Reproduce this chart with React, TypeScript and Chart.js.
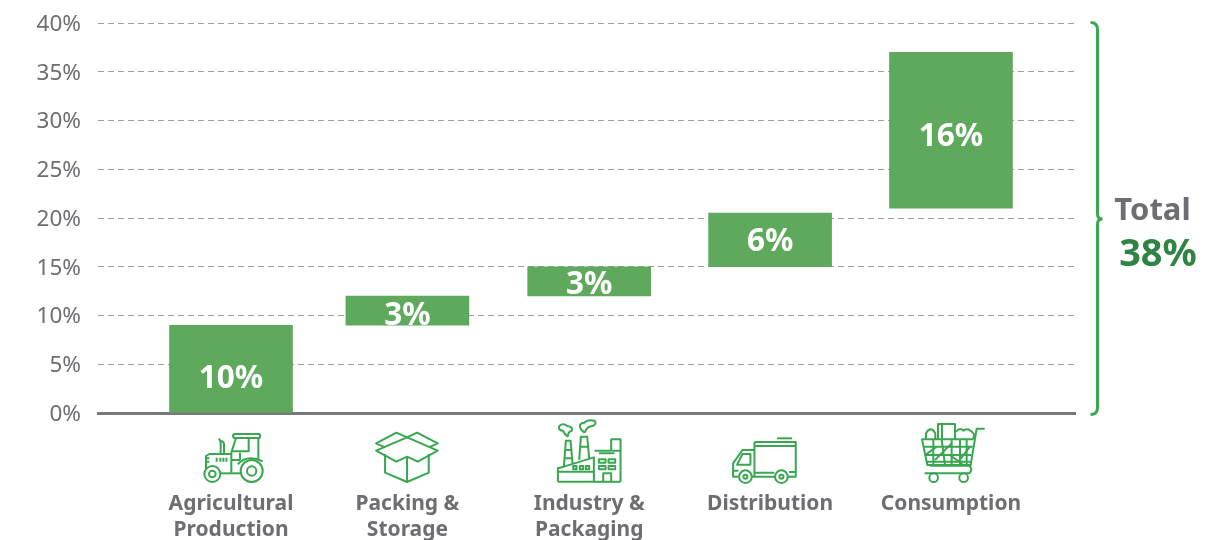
import React, { useEffect, useRef } from "react";
import { Chart, registerables } from "chart.js";

Chart.register(...registerables);

const categories = [["Agricultural", "Production"], ["Packing &", "Storage"], ["Industry &", "Packaging"], ["Distribution"], ["Consumption"]];
const barStart = [0, 9, 12, 15, 21];
const barEnd = [9, 12, 15, 20.5, 37];
const shareLabels = ["10%", "3%", "3%", "6%", "16%"];
const labelLevel = [3.6, 10.0, 13.2, 17.6, 28.4];
const slots = [0, 0.98, 1.99, 2.995, 4];
const totalTitle = "Total";
const totalValue = "38%";

const FONT = '"Noto Sans"';
const GRAY = "#6d6e71";
const GREEN = "#39a650";

// icon outlines: drawn at 3x, with their own origin, then placed below each category
const icons: { ox: number; paths: string[]; thick?: string[] }[] = [
  {
    ox: 243,
    paths: [
      "M252 72 H328 Q333 78 328 84 H252 Q246 78 252 72 Z",
      "M258 84 L244 128 V188 M325 84 V150 M296 84 V126 M244 124 H296 M270 128 V150 M244 150 H270",
      "M244 132 H178 L168 138 V178",
      "M178 145 H168 V155 H178",
      "M212 130 V100 Q212 90 206 86 M222 130 V104 Q222 96 214 92",
      "M200 143 V155 M211 143 V155 M220 143 V155 M229 143 V155",
      "M212 190 H272",
      "M263 163 Q292 132 338 154",
      "M211 192 A24 24 0 1 1 163 192 A24 24 0 1 1 211 192 Z",
      "M197 192 A10 10 0 1 1 177 192 A10 10 0 1 1 197 192 Z",
      "M338 183 A33 33 0 1 1 272 183 A33 33 0 1 1 338 183 Z",
      "M319 183 A14 14 0 1 1 291 183 A14 14 0 1 1 319 183 Z",
    ],
  },
  {
    ox: 771,
    paths: [
      "M704 132 V188 L770 216 L835 188 V132",
      "M770 216 V140",
      "M770 82 L677 122 L738 155 L770 140 L802 155 L862 122 L770 82",
      "M704 112 L677 100 L738 68 L770 82 L800 68 L862 100 L835 112",
    ],
  },
  {
    ox: 1316,
    paths: [
      "M1222 215 V175 L1240 170 L1330 142 V215 M1222 215 H1410 M1222 185 H1330",
      "M1240 170 L1246 92 H1260 L1266 162 M1242 120 H1264 M1240 145 H1266",
      "M1286 150 L1291 80 H1310 L1316 145 M1288 110 H1314",
      "M1268 168 H1278 V178 H1268 Z M1288 168 H1298 V178 H1288 Z M1306 168 H1316 V178 H1306 Z",
      "M1332 122 H1382 V88 H1410 V215 M1345 130 H1392 M1385 122 H1410",
      "M1345 148 H1365 V158 H1345 Z M1374 148 H1394 V158 H1374 Z M1345 168 H1365 V178 H1345 Z M1374 168 H1394 V178 H1374 Z",
      "M1358 215 V190 H1382 V215",
      "M1252 80 Q1240 72 1238 62 Q1222 62 1226 48 Q1238 38 1250 48 Q1268 50 1264 62 Q1252 64 1252 80",
      "M1302 68 Q1290 60 1288 50 Q1288 38 1302 38 Q1310 28 1332 32 Q1340 42 1326 48 Q1310 48 1302 68",
    ],
  },
  {
    ox: 417,
    paths: [
      "M370 96 H494 V200 H470 M370 96 V198 M432 200 H360",
      "M372 108 H492",
      "M438 85 H483",
      "M370 120 H334 L306 160 V200 H322",
      "M334 132 H358 V164 H318 Z",
      "M306 182 H322 M372 188 H430 M474 186 H492",
      "M362 200 A19 19 0 1 1 324 200 A19 19 0 1 1 362 200 Z",
      "M470 200 A19 19 0 1 1 432 200 A19 19 0 1 1 470 200 Z",
      "M349 200 A6 6 0 1 1 337 200 A6 6 0 1 1 349 200 Z",
      "M457 200 A6 6 0 1 1 445 200 A6 6 0 1 1 457 200 Z",
    ],
  },
  {
    ox: 963,
    paths: [
      "M1064 56 H1040 L1022 165 H892 L876 88 H1030",
      "M880 110 H1028 M886 135 H1024 M890 155 H1022",
      "M910 88 V165 M935 88 L945 165 M965 88 V165 M990 88 V165 M1010 88 V165",
      "M886 135 L920 110 M915 150 L965 100 M960 135 L1000 165 M1020 110 L985 155",
      "M884 190 H1018 Q1030 178 1018 167 H900",
      "M888 88 V70 Q902 46 916 70 V88",
      "M924 88 V42 H975 V88 M936 42 V88",
      "M978 65 Q990 50 1000 62 Q1015 50 1032 72 L1030 88",
      "M924 203 A13 13 0 1 1 898 203 A13 13 0 1 1 924 203 Z",
      "M1014 203 A13 13 0 1 1 988 203 A13 13 0 1 1 1014 203 Z",
    ],
  },
];

const extras = {
  id: "extras",
  afterDatasetsDraw(chart: any) {
    const { ctx, scales } = chart;
    const meta = chart.getDatasetMeta(0);
    ctx.save();
    // share labels, clipped to their bars as in the source
    shareLabels.forEach((t, i) => {
      const el = meta.data[i];
      const p = el.getProps(["x", "y", "base", "width"], true);
      ctx.save();
      ctx.beginPath();
      ctx.rect(p.x - p.width / 2, Math.min(p.y, p.base), p.width, Math.abs(p.base - p.y));
      ctx.clip();
      ctx.fillStyle = "#ffffff";
      ctx.font = `bold 31.5px ${FONT}`;
      ctx.textAlign = "center";
      ctx.textBaseline = "middle";
      ctx.fillText(t, p.x, scales.y.getPixelForValue(labelLevel[i]) + 1);
      ctx.restore();
    });
    // category icons
    icons.forEach((ic, i) => {
      const cx = scales.x.getPixelForValue(slots[i]);
      ctx.save();
      ctx.translate(cx - ic.ox / 3, scales.y.bottom - 3);
      ctx.scale(1 / 3, 1 / 3);
      ctx.strokeStyle = GREEN;
      ctx.lineWidth = 6;
      ctx.lineJoin = "round";
      ic.paths.forEach((d) => ctx.stroke(new Path2D(d)));
      ctx.restore();
    });
    // total brace, spanning the axis range
    const top = scales.y.top - 0.5;
    const bot = scales.y.bottom + 1.5;
    const mid = scales.y.getPixelForValue(20) + 1;
    const bx = scales.x.right + 22.5;
    ctx.strokeStyle = GREEN;
    ctx.lineWidth = 3;
    ctx.beginPath();
    ctx.moveTo(bx - 7, top);
    ctx.quadraticCurveTo(bx, top, bx, top + 7);
    ctx.lineTo(bx, mid - 5);
    ctx.quadraticCurveTo(bx, mid, bx + 5, mid);
    ctx.quadraticCurveTo(bx, mid, bx, mid + 5);
    ctx.lineTo(bx, bot - 7);
    ctx.quadraticCurveTo(bx, bot, bx - 7, bot);
    ctx.stroke();
    ctx.textAlign = "center";
    ctx.textBaseline = "middle";
    ctx.fillStyle = GRAY;
    ctx.font = `bold 31px ${FONT}`;
    ctx.fillText(totalTitle, bx + 55, mid - 8);
    ctx.fillStyle = "#2f8443";
    ctx.font = `bold 38px ${FONT}`;
    ctx.fillText(totalValue, bx + 60.5, mid + 36);
    ctx.restore();
  },
};

export default function App() {
  const ref = useRef<HTMLCanvasElement>(null);
  useEffect(() => {
    document.body.style.margin = "0";
    const chart = new Chart(ref.current!, {
      type: "bar",
      data: {
        datasets: [
          {
            data: barStart.map((s, i) => ({ x: slots[i], y: [s, barEnd[i]] })) as any,
            backgroundColor: "#5ea95b",
            barThickness: 123,
          },
        ],
      },
      options: {
        responsive: false,
        animation: false,
        layout: { padding: { top: 23, right: 156, left: 0, bottom: 0 } },
        plugins: { legend: { display: false }, tooltip: { enabled: false } },
        scales: {
          x: {
            type: "linear",
            offset: false,
            min: -0.739,
            max: 4.689,
            afterBuildTicks: (s: any) => {
              s.ticks = slots.map((value) => ({ value }));
            },
            afterFit: (s: any) => {
              s.height = 127;
              s.paddingLeft = 0;
              s.paddingRight = 0;
            },
            grid: { display: false, drawTicks: false, offset: false },
            border: { color: "#77787b", width: 3 },
            ticks: {
              autoSkip: false,
              maxRotation: 0,
              padding: 78,
              color: GRAY,
              font: { family: FONT, size: 21, weight: "bold", lineHeight: 1.25 },
              callback: (_v: any, i: number) => categories[i],
            },
          },
          y: {
            min: 0,
            max: 40,
            afterFit: (s: any) => {
              s.width = 98;
              s.paddingTop = 0;
              s.paddingBottom = 0;
            },
            grid: {
              drawTicks: false,
              color: (c: any) => (c.tick.value === 0 ? "rgba(0,0,0,0)" : "#9c9d9f"),
              lineWidth: 1,
            },
            border: { display: false, dash: [6, 4] },
            ticks: {
              stepSize: 5,
              padding: 17,
              labelOffset: 1.5,
              color: GRAY,
              font: { family: FONT, size: 22.5 },
              callback: (v: any) => `${v}%`,
            },
          },
        },
      },
      plugins: [extras],
    } as any);
    return () => chart.destroy();
  }, []);
  return <canvas ref={ref} width={1231} height={540} style={{ display: "block" }} />;
}
